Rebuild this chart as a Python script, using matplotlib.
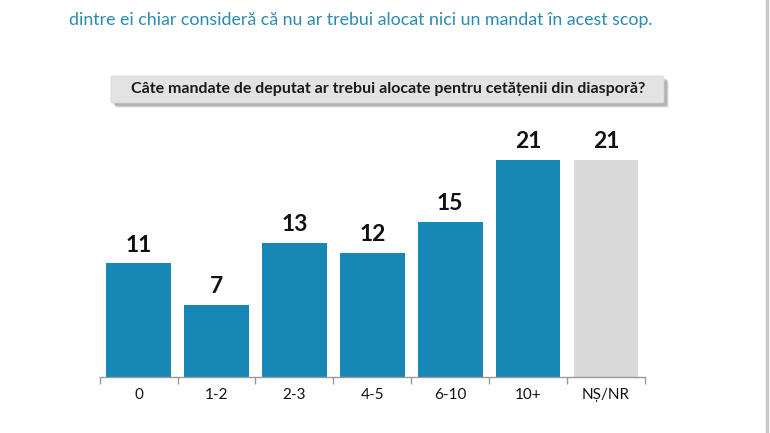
import matplotlib
matplotlib.use("Agg")
import matplotlib.pyplot as plt
from matplotlib.patches import FancyBboxPatch
from matplotlib.lines import Line2D

categories = ["0", "1-2", "2-3", "4-5", "6-10", "10+", "NȘ/NR"]
values = [11, 7, 13, 12, 15, 21, 21]
bar_colors = ["#1787b5"] * 6 + ["#d9d9d9"]

title = "Câte mandate de deputat ar trebui alocate pentru cetățenii din diasporă?"
top_text = "dintre ei chiar consideră că nu ar trebui alocat nici un mandat în acest scop."

plt.rcParams["font.family"] = ["Lato", "DejaVu Sans"]

fig = plt.figure(figsize=(7.7, 4.33), dpi=100)
fig.patch.set_facecolor("white")

ax = fig.add_axes([0.1294, 0.1293, 0.7083, 0.5727])
x = list(range(len(categories)))
bars = ax.bar(x, values, width=0.83, color=bar_colors, zorder=2)
ax.set_xlim(-0.5, len(categories) - 0.5)
ax.set_ylim(0, 24)
for b, v in zip(bars, values):
    ax.text(b.get_x() + b.get_width() / 2, v + 0.75, str(v), ha="center", va="bottom",
            fontsize=16.5, fontweight="bold", color="#111111")

ax.set_xticks([i + 0.5 for i in range(-1, len(categories))], minor=True)
ax.set_xticks(x)
ax.set_xticklabels(categories, fontsize=11, color="#111111")
ax.tick_params(axis="x", which="major", length=0, pad=8)
ax.tick_params(axis="x", which="minor", length=5, color="#999999", width=1)
ax.set_yticks([])
for s in ["top", "right", "left"]:
    ax.spines[s].set_visible(False)
ax.spines["bottom"].set_color("#999999")
ax.spines["bottom"].set_linewidth(1)

# title box with shadow
W, H = 770, 433
def fx(px):
    return px / W
def fy(py):
    return 1 - py / H

for off, alpha in [(5, 0.15), (4, 0.25), (3, 0.35)]:
    shadow = FancyBboxPatch((fx(111 + off), fy(103 + off)), fx(664) - fx(111), fy(76) - fy(103),
                            boxstyle="round,pad=0,rounding_size=0.003",
                            transform=fig.transFigure, facecolor="#808080",
                            edgecolor="none", alpha=alpha, zorder=1)
    fig.patches.append(shadow)
box = FancyBboxPatch((fx(111), fy(103)), fx(664) - fx(111), fy(76) - fy(103),
                     boxstyle="round,pad=0,rounding_size=0.003",
                     transform=fig.transFigure, facecolor="#e3e3e3",
                     edgecolor="#cfcfcf", linewidth=0.5, zorder=2)
fig.patches.append(box)
fig.text(fx(388), fy(89.5), title, ha="center", va="center", fontsize=11.5,
         fontweight="bold", color="#1a1a1a", zorder=3)

fig.text(fx(69), fy(20), top_text, ha="left", va="center", fontsize=12.8,
         color="#2a8ab2")

fig.add_artist(Line2D([fx(767), fx(767)], [0, 1], transform=fig.transFigure,
                      color="#c8c8c8", linewidth=2.5))

fig.savefig("out.png", dpi=100, facecolor="white")
